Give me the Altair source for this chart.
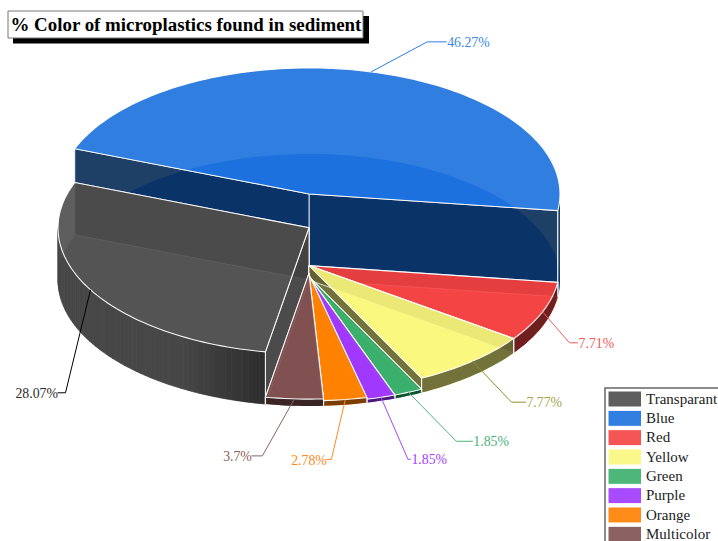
import math
import altair as alt
import pandas as pd

# Share of each colour class, in percent, and the colours used for it
categories = ["Transparant", "Blue", "Red", "Yellow", "Green", "Purple", "Orange", "Multicolor"]
percents = [28.07, 46.27, 7.71, 7.77, 1.85, 1.85, 2.78, 3.7]
label_texts = ["28.07%", "46.27%", "7.71%", "7.77%", "1.85%", "1.85%", "2.78%", "3.7%"]
top_colors = [(76, 76, 76), (25, 112, 220), (244, 66, 66), (249, 247, 125),
              (58, 174, 106), (159, 54, 254), (255, 128, 0), (128, 80, 80)]
floor_colors = [(136, 136, 136), (35, 105, 255), (244, 66, 66), (249, 247, 125),
                (58, 174, 106), (159, 54, 254), (255, 128, 0), (128, 80, 80)]
wall_colors = [(66, 66, 66), (6, 43, 87), (98, 26, 26), (100, 99, 50),
               (10, 70, 40), (64, 20, 110), (110, 52, 0), (50, 30, 30)]
label_colors = ["#2a2a2a", "#3a88ea", "#f25858", "#a6a44c", "#4cb07a", "#a040ff", "#ff8a1a", "#8a6060"]
leader_colors = ["#000000", "#2f7de1", "#f25c5c", "#8f8d2c", "#4db27a", "#a347ff", "#ff8c1f", "#8c6464"]

# Leader layout per slice: elbow offset from the rim, then length of the flat run
leader_bends = [(-25, 103), (56, -30), (27, 31), (39, 41), (48, 49), (27, 62), (-14, 60), (-32, 57)]
leader_runs = [-8, 19.5, 8.5, 14.5, 16.5, 3, -5, -11]

# Pie geometry: every slice stands on the same floor, its height follows its share
CX, FLOOR_Y, RX, RY = 309, 280, 251, 126
HEIGHT_PER_PERCENT = 1.86
START_ANGLE = 190.0
ALPHA = 0.9


def rgb(c):
    return "#%02x%02x%02x" % tuple(int(round(v)) for v in c)


def rim(angle, y0):
    t = math.radians(angle)
    return [CX + RX * math.sin(t), y0 - RY * math.cos(t)]


def arc(a0, a1, y0):
    n = max(2, int(abs(a1 - a0) / 1.5) + 1)
    return [rim(a0 + (a1 - a0) * i / n, y0) for i in range(n + 1)]


def feature(points, fill, fill_op=ALPHA, stroke="#ffffff", stroke_op=0.95, width=1.1, closed=True):
    if closed:
        geom = {"type": "Polygon", "coordinates": [points + [points[0]]]}
    else:
        geom = {"type": "LineString", "coordinates": points}
    return {"type": "Feature", "geometry": geom,
            "properties": {"fill": fill, "fo": fill_op, "stroke": stroke, "so": stroke_op, "sw": width}}


def build_slice(i, a0, a1):
    h = percents[i] * HEIGHT_PER_PERCENT
    top_y = FLOOR_Y - h
    top, floor, wall = rgb(top_colors[i]), rgb(floor_colors[i]), rgb(wall_colors[i])
    parts = [feature([[CX, FLOOR_Y]] + arc(a0, a1, FLOOR_Y), floor, stroke=floor, stroke_op=0, width=0)]

    # radial walls on both cut faces
    for a in (a1, a0):
        parts.append(feature([[CX, top_y], rim(a, top_y), rim(a, FLOOR_Y), [CX, FLOOR_Y]],
                             wall, stroke_op=0.8, width=1))

    # rim wall, only where it faces the viewer
    for shift in (-360, 0, 360):
        lo, hi = max(a0, 90 + shift), min(a1, 270 + shift)
        if lo >= hi:
            continue
        if i == 0:
            # the large grey wall darkens towards its cut edge
            steps = 60
            for s in range(steps):
                b0 = lo + (hi - lo) * s / steps
                b1 = lo + (hi - lo) * (s + 1) / steps
                g = 46 + 25 * min(1.0, (b0 - lo) / 20)
                col = rgb((g, g, g))
                parts.append(feature(arc(b0, b1, top_y) + arc(b1, b0, FLOOR_Y), col, 1.0,
                                     stroke=col, stroke_op=1.0, width=0.6))
        else:
            parts.append(feature(arc(lo, hi, top_y) + arc(hi, lo, FLOOR_Y), wall, stroke=wall, stroke_op=0, width=0))
        for a in (lo, hi):
            if abs((a % 180) - 90) > 0.01:
                parts.append(feature([rim(a, top_y), rim(a, FLOOR_Y)], "#ffffff", 0, closed=False))

    parts.append(feature([[CX, top_y]] + arc(a0, a1, top_y), top))
    return parts


# Slice spans, clockwise from twelve o'clock, in data order
spans = []
angle = START_ANGLE
for p in percents:
    spans.append((angle, angle + p * 3.6))
    angle += p * 3.6

paint_order = [1, 0, 2, 3, 4, 5, 6, 7]
features = []
for i in paint_order:
    features += build_slice(i, *spans[i])

pie = alt.Chart(alt.Data(values=features)).mark_geoshape(filled=True).encode(
    fill=alt.Fill("properties.fill:N", scale=None),
    fillOpacity=alt.FillOpacity("properties.fo:Q", scale=None),
    stroke=alt.Stroke("properties.stroke:N", scale=None),
    strokeOpacity=alt.StrokeOpacity("properties.so:Q", scale=None),
    strokeWidth=alt.StrokeWidth("properties.sw:Q", scale=None),
).project(type="identity", scale=1, translate=[0, 0])

# Leaders run from the middle of each slice's rim to an elbow and then flat to the label
leader_rows, label_rows = [], []
for i, (a0, a1) in enumerate(spans):
    mid = (a0 + a1) / 2
    sx, sy = rim(mid, FLOOR_Y - percents[i] * HEIGHT_PER_PERCENT)
    ex, ey = sx + leader_bends[i][0], sy + leader_bends[i][1]
    fx = ex + leader_runs[i]
    for k, (x, y) in enumerate([(sx, sy), (ex, ey), (fx, ey)]):
        leader_rows.append({"x": x, "y": y, "k": k, "name": categories[i], "color": leader_colors[i]})
    label_rows.append({"x": fx + 0.5, "y": ey + 1, "text": label_texts[i],
                       "color": label_colors[i], "align": "left" if leader_runs[i] > 0 else "right"})
labels_df = pd.DataFrame(label_rows)

px = alt.Scale(domain=[0, 718], range=[0, 718])
py = alt.Scale(domain=[0, 541], range=[0, 541])
X = alt.X("x:Q", scale=px, axis=None)
Y = alt.Y("y:Q", scale=py, axis=None)

leaders = alt.Chart(pd.DataFrame(leader_rows)).mark_line(strokeWidth=1).encode(
    x=X, y=Y, order="k:Q", detail="name:N", color=alt.Color("color:N", scale=None))


def label_layer(align):
    return alt.Chart(labels_df[labels_df["align"] == align]).mark_text(
        font="Liberation Serif", fontSize=13.8, align=align, baseline="middle"
    ).encode(x=X, y=Y, text="text:N", color=alt.Color("color:N", scale=None))


# Title plate with its hard shadow, and the legend frame
boxes = pd.DataFrame({
    "x": [13, 8, 605], "x2": [369, 363, 760],
    "y": [16, 11, 388], "y2": [43.5, 38, 580],
    "fill": ["#000000", "#ffffff", "#ffffff"],
    "stroke": ["#000000", "#777777", "#666666"],
    "sw": [0, 1, 1.5],
})
box_layer = alt.Chart(boxes).mark_rect().encode(
    x=X, x2="x2:Q", y=Y, y2="y2:Q",
    fill=alt.Fill("fill:N", scale=None),
    stroke=alt.Stroke("stroke:N", scale=None),
    strokeWidth=alt.StrokeWidth("sw:Q", scale=None),
)
title_layer = alt.Chart(pd.DataFrame({"x": [10.5], "y": [31], "t": ["% Color of microplastics found in sediment"]})).mark_text(
    font="Liberation Serif", fontSize=18.9, fontWeight="bold", align="left", baseline="alphabetic", color="#000000"
).encode(x=X, y=Y, text="t:N")

# Legend rows
legend_df = pd.DataFrame({
    "name": categories,
    "x": [608] * 8, "x2": [641.5] * 8,
    "y": [391 + 19.33 * i for i in range(8)],
    "y2": [407 + 19.33 * i for i in range(8)],
    "ty": [403.6 + 19.33 * i for i in range(8)],
    "tx": [646] * 8,
    "fill": [rgb(c) for c in top_colors],
})
swatches = alt.Chart(legend_df).mark_rect(fillOpacity=ALPHA, stroke="#ffffff", strokeWidth=1).encode(
    x=X, x2="x2:Q", y=Y, y2="y2:Q", fill=alt.Fill("fill:N", scale=None))
legend_text = alt.Chart(legend_df).mark_text(
    font="Liberation Serif", fontSize=15, align="left", baseline="alphabetic", color="#222222"
).encode(x=alt.X("tx:Q", scale=px, axis=None), y=alt.Y("ty:Q", scale=py, axis=None), text="name:N")

chart = alt.layer(
    pie, leaders, label_layer("left"), label_layer("right"),
    box_layer, title_layer, swatches, legend_text,
).properties(width=718, height=541, padding=0, autosize="none", background="#ffffff"
).configure_view(stroke=None)

chart.save("out.html", embed_options={"renderer": "svg", "actions": False})
